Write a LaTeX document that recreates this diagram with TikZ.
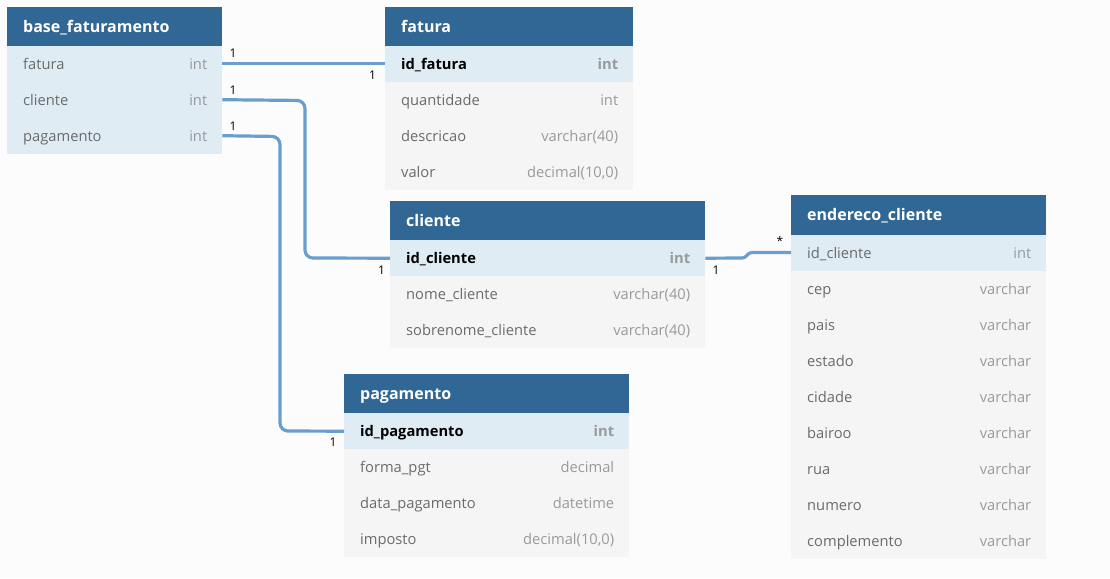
\documentclass[tikz,border=0pt]{standalone}
\usepackage{fontspec}
\setmainfont{Open Sans}
\definecolor{bg}{HTML}{FCFCFC}
\definecolor{hdr}{HTML}{316795}
\definecolor{rowb}{HTML}{DFECF4}
\definecolor{rowg}{HTML}{F5F5F5}
\definecolor{fgrey}{HTML}{6B6B6B}
\definecolor{tgrey}{HTML}{9A9A9A}
\definecolor{conn}{HTML}{6A9ECF}
\tikzset{
  x=1pt, y=-1pt,
  hdrbox/.style={fill=hdr, draw=none, anchor=north west, inner sep=0pt},
  rowblue/.style={fill=rowb, draw=none, anchor=north west, inner sep=0pt},
  rowgrey/.style={fill=rowg, draw=none, anchor=north west, inner sep=0pt},
  htext/.style={anchor=base west, text=white, font=\fontsize{16}{19}\selectfont\bfseries, inner sep=0pt},
  fname/.style={anchor=base west, text=fgrey, font=\fontsize{14.7}{17}\selectfont, inner sep=0pt},
  ftype/.style={anchor=base east, text=tgrey, font=\fontsize{14.7}{17}\selectfont, inner sep=0pt},
  fnamek/.style={anchor=base west, text=black, font=\fontsize{14.7}{17}\selectfont\bfseries, inner sep=0pt},
  ftypek/.style={anchor=base east, text=tgrey, font=\fontsize{14.7}{17}\selectfont\bfseries, inner sep=0pt},
  card/.style={text=black, font=\fontsize{12}{14}\selectfont, inner sep=0pt},
  link/.style={draw=conn, line width=3.2pt, rounded corners=8pt},
}
% \tbhdr{name}{x}{y}{w}{h}{title}
\newcommand\tbhdr[6]{%
  \node[hdrbox, minimum width=#4, minimum height=#5] (#1) at (#2,#3) {};
  \node[htext] (#1-t) at ([xshift=16pt,yshift=-5.5pt]#1.west) {#6};}
% \tbrow{name}{x}{y}{w}{boxstyle}{field}{type}{namestyle}{typestyle}
\newcommand\tbrow[9]{%
  \node[#5, minimum width=#4, minimum height=36] (#1) at (#2,#3) {};
  \node[#8] (#1-n) at ([xshift=16pt,yshift=-5.3pt]#1.west) {#6};
  \node[#9] (#1-y) at ([xshift=-15pt,yshift=-5.3pt]#1.east) {#7};}
\begin{document}
\begin{tikzpicture}
\fill[bg] (0,0) rectangle (1110,578);
\useasboundingbox (0,0) rectangle (1110,578);

% base_faturamento
\tbhdr{bf}{7}{7}{215}{39}{base\_faturamento}
\tbrow{bf1}{7}{46}{215}{rowblue}{fatura}{int}{fname}{ftype}
\tbrow{bf2}{7}{82}{215}{rowblue}{cliente}{int}{fname}{ftype}
\tbrow{bf3}{7}{118}{215}{rowblue}{pagamento}{int}{fname}{ftype}

% fatura
\tbhdr{fa}{385}{7}{248}{39}{fatura}
\tbrow{fa1}{385}{46}{248}{rowblue}{id\_fatura}{int}{fnamek}{ftypek}
\tbrow{fa2}{385}{82}{248}{rowgrey}{quantidade}{int}{fname}{ftype}
\tbrow{fa3}{385}{118}{248}{rowgrey}{descricao}{varchar(40)}{fname}{ftype}
\tbrow{fa4}{385}{154}{248}{rowgrey}{valor}{decimal(10,0)}{fname}{ftype}

% cliente
\tbhdr{cl}{390}{201}{315}{39}{cliente}
\tbrow{cl1}{390}{240}{315}{rowblue}{id\_cliente}{int}{fnamek}{ftypek}
\tbrow{cl2}{390}{276}{315}{rowgrey}{nome\_cliente}{varchar(40)}{fname}{ftype}
\tbrow{cl3}{390}{312}{315}{rowgrey}{sobrenome\_cliente}{varchar(40)}{fname}{ftype}

% pagamento
\tbhdr{pg}{344}{374}{285}{39}{pagamento}
\tbrow{pg1}{344}{413}{285}{rowblue}{id\_pagamento}{int}{fnamek}{ftypek}
\tbrow{pg2}{344}{449}{285}{rowgrey}{forma\_pgt}{decimal}{fname}{ftype}
\tbrow{pg3}{344}{485}{285}{rowgrey}{data\_pagamento}{datetime}{fname}{ftype}
\tbrow{pg4}{344}{521}{285}{rowgrey}{imposto}{decimal(10,0)}{fname}{ftype}

% endereco_cliente
\tbhdr{en}{791}{195}{255}{40}{endereco\_cliente}
\tbrow{en1}{791}{235}{255}{rowblue}{id\_cliente}{int}{fname}{ftype}
\tbrow{en2}{791}{271}{255}{rowgrey}{cep}{varchar}{fname}{ftype}
\tbrow{en3}{791}{307}{255}{rowgrey}{pais}{varchar}{fname}{ftype}
\tbrow{en4}{791}{343}{255}{rowgrey}{estado}{varchar}{fname}{ftype}
\tbrow{en5}{791}{379}{255}{rowgrey}{cidade}{varchar}{fname}{ftype}
\tbrow{en6}{791}{415}{255}{rowgrey}{bairoo}{varchar}{fname}{ftype}
\tbrow{en7}{791}{451}{255}{rowgrey}{rua}{varchar}{fname}{ftype}
\tbrow{en8}{791}{487}{255}{rowgrey}{numero}{varchar}{fname}{ftype}
\tbrow{en9}{791}{523}{255}{rowgrey}{complemento}{varchar}{fname}{ftype}

% connectors
\draw[link] ([yshift=0.5pt]bf1.east) -- ([yshift=0.5pt]fa1.west);
\draw[link] ([yshift=0.5pt]bf2.east) -- (305,100.5) -- (305,258) -- (cl1.west);
\draw[link] ([yshift=0.5pt]bf3.east) -- (280,136.5) -- (280,431) -- (pg1.west);
\draw[draw=conn, line width=3.2pt, rounded corners=3pt] (cl1.east) -- (745,258) -- (749,252.5) -- (en1.west |- 0,252.5);

% cardinality labels
\node[card] (c1) at (233,53) {1};
\node[card] (c2) at (372.5,75) {1};
\node[card] (c3) at (233,90) {1};
\node[card] (c4) at (381.5,270) {1};
\node[card] (c5) at (233,126) {1};
\node[card] (c6) at (333,442) {1};
\node[card] (c7) at (716,270) {1};
\node[card] (c8) at (780,241) {*};
\end{tikzpicture}
\end{document}
